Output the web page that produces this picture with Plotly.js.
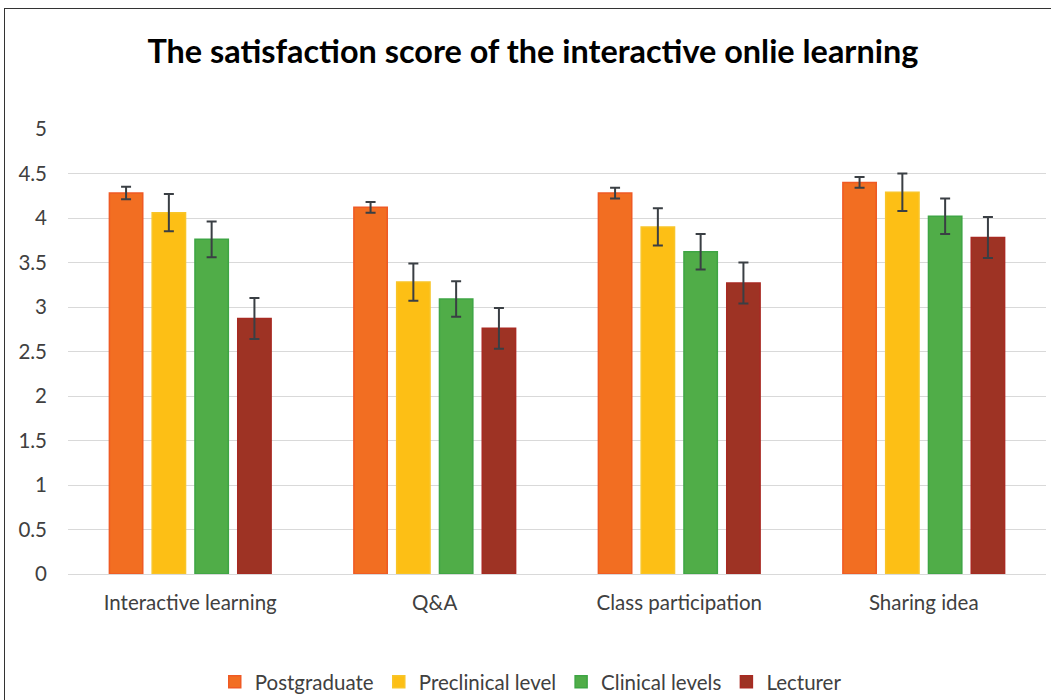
<!DOCTYPE html>
<html>
<head>
<meta charset="utf-8">
<script src="https://cdn.plot.ly/plotly-3.0.1.min.js"></script>
<style>
  body { margin: 0; background: #fff; }
  #chart { width: 1051px; height: 700px; }
  #frame { position: absolute; left: 4px; top: 8px; width: 1060px; height: 700px; border: 1px solid #333; pointer-events: none; }
</style>
</head>
<body>
<div id="chart"></div>
<div id="frame"></div>
<script>
const categories = ["Interactive learning", "Q&A", "Class participation", "Sharing idea"];
const seriesNames = ["Postgraduate", "Preclinical level", "Clinical levels", "Lecturer"];
const postgraduate = [4.28, 4.12, 4.28, 4.40];
const postgraduateErr = [0.07, 0.06, 0.06, 0.06];
const preclinical = [4.06, 3.28, 3.90, 4.29];
const preclinicalErr = [0.21, 0.21, 0.21, 0.21];
const clinical = [3.76, 3.09, 3.62, 4.02];
const clinicalErr = [0.20, 0.20, 0.20, 0.20];
const lecturer = [2.87, 2.76, 3.27, 3.78];
const lecturerErr = [0.23, 0.23, 0.23, 0.23];

const fills = ["#F26E22", "#FDBF15", "#50AD48", "#9E3324"];
const edges = ["#EF5A24", "#F8C52A", "#3EA544", "#A82A22"];
const values = [postgraduate, preclinical, clinical, lecturer];
const errs = [postgraduateErr, preclinicalErr, clinicalErr, lecturerErr];

const traces = seriesNames.map((name, i) => ({
  type: "bar",
  name: name,
  x: categories,
  y: values[i],
  marker: { color: fills[i], line: { color: edges[i], width: 1.5 } },
  error_y: { type: "data", array: errs[i], visible: true, color: "#3a3f44", thickness: 2, width: 5 }
}));

const layout = {
  width: 1051, height: 700,
  paper_bgcolor: "#fff", plot_bgcolor: "#fff",
  margin: { l: 68, r: 5, t: 129, b: 126 },
  title: {
    text: "<b>The satisfaction score of the interactive onlie learning</b>",
    font: { family: "Lato, Open Sans, sans-serif", size: 32.4, color: "#000" },
    x: 0.507, xanchor: "center", y: 0.926, yanchor: "middle"
  },
  barmode: "group",
  bargap: 0.30,
  bargroupgap: 0.22,
  font: { family: "Lato, Open Sans, sans-serif", color: "#404040" },
  xaxis: {
    tickfont: { size: 20.5, color: "#404040" },
    showgrid: false, zeroline: false, showline: false, ticks: "",
    ticklabelstandoff: 14, automargin: false
  },
  yaxis: {
    range: [0, 5], dtick: 0.5,
    tickfont: { size: 20.5, color: "#404040" },
    showgrid: true, gridcolor: "#d9d9d9", gridwidth: 1,
    zeroline: true, zerolinecolor: "#d9d9d9", zerolinewidth: 1,
    showline: false, ticks: "", ticklabelstandoff: 20, automargin: false
  },
  legend: {
    orientation: "h", xref: "container", yref: "container",
    x: 0.505, xanchor: "center", y: 0.026, yanchor: "middle",
    font: { size: 20.5, color: "#404040" }, itemwidth: 30, traceorder: "normal"
  },
  showlegend: true
};

Plotly.newPlot("chart", traces, layout, { displayModeBar: false, staticPlot: true });
</script>
</body>
</html>
